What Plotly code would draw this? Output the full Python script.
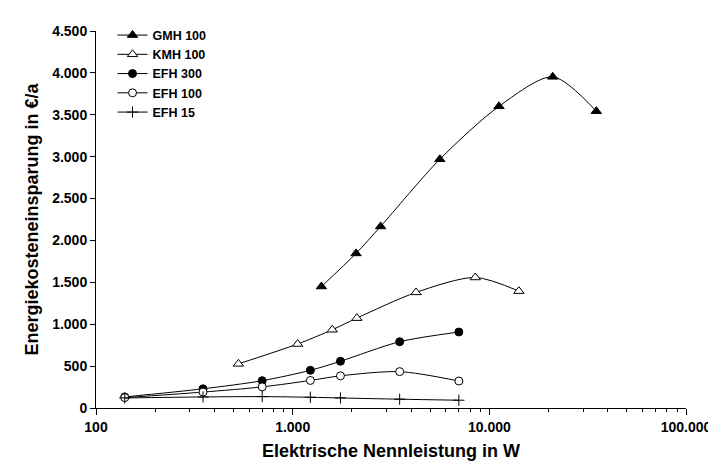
import plotly.graph_objects as go

# Data
gmh_x = [1400, 2100, 2800, 5600, 11200, 21000, 35000]
gmh_y = [1450, 1845, 2167, 2969, 3601, 3953, 3543]

kmh_x = [530, 1060, 1590, 2120, 4240, 8480, 14130]
kmh_y = [527, 764, 934, 1073, 1380, 1558, 1395]

efh_x = [140, 350, 700, 1230, 1750, 3500, 7000]
efh300_y = [132, 229, 326, 450, 558, 791, 907]
efh100_y = [124, 190, 252, 329, 384, 434, 322]
efh15_y = [120, 132, 136, 128, 120, 105, 93]

x_tickvals = [100, 1000, 10000, 100000]
x_ticktext = ["100", "1.000", "10.000", "100.000"]
x_minor = [m * d for d in (100, 1000, 10000) for m in range(2, 10)]

series = [
    ("GMH 100", gmh_x, gmh_y, "triangle-up", "black", 9),
    ("KMH 100", kmh_x, kmh_y, "triangle-up", "white", 9),
    ("EFH 300", efh_x, efh300_y, "circle", "black", 8),
    ("EFH 100", efh_x, efh100_y, "circle", "white", 8),
    ("EFH 15", efh_x, efh15_y, "cross-thin", "black", 8),
]

fig = go.Figure()
for name, xs, ys, sym, fill, size in series:
    fig.add_trace(go.Scatter(
        x=xs, y=ys, name=name, mode="lines+markers",
        line=dict(color="black", width=1, shape="spline", smoothing=0.8),
        marker=dict(symbol=sym, color=fill, size=size,
                    line=dict(color="black", width=1)),
    ))

FAM = "Liberation Sans, Arial, sans-serif"
axis_font = dict(family=FAM, size=14, color="black", weight="bold")
title_font = dict(family=FAM, size=18, color="black", weight="bold")

fig.update_layout(
    width=716, height=461,
    margin=dict(l=88, r=28, t=16, b=58),
    paper_bgcolor="white", plot_bgcolor="white",
    separators=",.",
    showlegend=True,
    legend=dict(x=0.028, y=1.028, xanchor="left", yanchor="top",
                font=dict(family=FAM, size=12.5, color="black", weight="bold"),
                bgcolor="rgba(0,0,0,0)", tracegroupgap=0, itemwidth=30),
    xaxis=dict(
        type="log", range=[2, 5],
        tickmode="array", tickvals=x_tickvals, ticktext=x_ticktext,
        ticks="outside", ticklen=6, tickcolor="black", tickwidth=1,
        minor=dict(tickmode="array", tickvals=x_minor, ticks="outside", ticklen=3,
                   tickcolor="black", tickwidth=1, showgrid=False),
        showline=True, linecolor="black", linewidth=1,
        showgrid=False, zeroline=False,
        tickfont=axis_font,
        title=dict(text="Elektrische Nennleistung in W", font=title_font, standoff=10),
    ),
    yaxis=dict(
        range=[0, 4500], dtick=500, tick0=0, tickformat=",d",
        ticks="outside", ticklen=5, tickcolor="black", tickwidth=1,
        showline=True, linecolor="black", linewidth=1,
        showgrid=False, zeroline=False,
        tickfont=axis_font,
        title=dict(text="Energiekosteneinsparung in €/a", font=title_font, standoff=8),
    ),
)

fig.write_html("out.html")
